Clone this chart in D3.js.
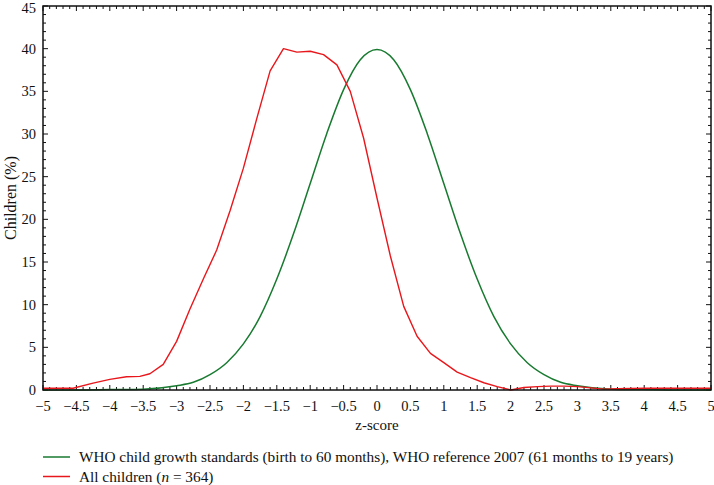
<!DOCTYPE html>
<html>
<head>
<meta charset="utf-8">
<script src="https://cdn.jsdelivr.net/npm/d3@7"></script>
<style>
  body { margin: 0; background: #fff; }
  text { font-family: "Liberation Serif", "DejaVu Serif", serif; fill: #111; }
</style>
</head>
<body>
<script>
// z-score values for the WHO reference curve
const whoZ = [-5, -4.5, -4, -3.5, -3, -2.75, -2.5, -2.25, -2, -1.75, -1.5, -1.25, -1, -0.75, -0.5, -0.25,
  0, 0.25, 0.5, 0.75, 1, 1.25, 1.5, 1.75, 2, 2.25, 2.5, 2.75, 3, 3.5, 4, 4.5, 5];
const whoPct = [0, 0, 0.05, 0.1, 0.5, 0.9, 1.8, 3.2, 5.4, 8.6, 13.0, 18.3, 24.2, 30.1, 35.2, 38.7,
  39.9, 38.7, 35.2, 30.1, 24.2, 18.3, 13.0, 8.6, 5.4, 3.2, 1.8, 0.9, 0.5, 0.1, 0.05, 0, 0];

// all children (n = 364)
const kidsZ = [-5, -4.55, -4.25, -4, -3.75, -3.55, -3.4, -3.2, -3, -2.8, -2.6, -2.4, -2.2, -2, -1.8, -1.6,
  -1.4, -1.2, -1, -0.8, -0.6, -0.4, -0.2, 0, 0.2, 0.4, 0.6, 0.8, 1, 1.2, 1.4, 1.6, 1.8, 2,
  2.2, 2.4, 2.6, 2.8, 3, 3.2, 3.4, 3.6, 4, 5];
const kidsPct = [0.2, 0.2, 0.8, 1.25, 1.55, 1.6, 1.9, 3.0, 5.7, 9.5, 13.0, 16.4, 21.0, 26.0, 31.8, 37.4,
  40.0, 39.6, 39.7, 39.3, 38.1, 35.0, 29.5, 22.5, 15.7, 9.8, 6.3, 4.3, 3.2, 2.1, 1.45, 0.85, 0.4, 0.0,
  0.3, 0.4, 0.45, 0.45, 0.4, 0.25, 0.1, 0.15, 0.2, 0.2];

const xTicks = d3.range(-5, 5.01, 0.5);
const yTicks = d3.range(0, 46, 5);

const legendItems = [
  { label: "WHO child growth standards (birth to 60 months), WHO reference 2007 (61 months to 19 years)", color: "#187a30" },
  { label: "All children (", italic: "n", rest: " = 364)", color: "#e8171c" },
];

const w = 714, h = 485;
const mLeft = 43, mRight = 711, mTop = 6, mBottom = 390;

const svg = d3.select("body").append("svg").attr("width", w).attr("height", h);

const x = d3.scaleLinear().domain([-5, 5]).range([mLeft, mRight]);
const y = d3.scaleLinear().domain([0, 45]).range([mBottom, mTop]);

const fmt = (d) => {
  const s = (Math.round(d * 10) / 10).toString();
  return s.replace("-", "\u2212");
};

// minor ticks
const xMinor = d3.range(-50, 51).map((d) => d / 10);
const yMinor = d3.range(0, 46);

const tickG = svg.append("g").attr("stroke", "#111").attr("stroke-width", 1);
xMinor.forEach((d) => {
  const major = Math.abs(d * 2 - Math.round(d * 2)) < 1e-6;
  const len = major ? 5 : 3;
  tickG.append("line").attr("x1", x(d)).attr("x2", x(d)).attr("y1", mBottom).attr("y2", mBottom - len);
  tickG.append("line").attr("x1", x(d)).attr("x2", x(d)).attr("y1", mTop).attr("y2", mTop + len);
});
yMinor.forEach((d) => {
  const len = d % 5 === 0 ? 5 : 3;
  tickG.append("line").attr("y1", y(d)).attr("y2", y(d)).attr("x1", mLeft).attr("x2", mLeft + len);
  tickG.append("line").attr("y1", y(d)).attr("y2", y(d)).attr("x1", mRight).attr("x2", mRight - len);
});

// lines
const whoData = whoZ.map((z, i) => [z, whoPct[i]]);
const kidsData = kidsZ.map((z, i) => [z, kidsPct[i]]);

svg.append("path")
  .datum(whoData)
  .attr("fill", "none")
  .attr("stroke", legendItems[0].color)
  .attr("stroke-width", 1.5)
  .attr("d", d3.line().x((d) => x(d[0])).y((d) => y(d[1])).curve(d3.curveMonotoneX));

svg.append("path")
  .datum(kidsData)
  .attr("fill", "none")
  .attr("stroke", legendItems[1].color)
  .attr("stroke-width", 1.4)
  .attr("stroke-linejoin", "round")
  .attr("d", d3.line().x((d) => x(d[0])).y((d) => y(d[1])));

// frame
svg.append("rect")
  .attr("x", mLeft).attr("y", mTop)
  .attr("width", mRight - mLeft).attr("height", mBottom - mTop)
  .attr("fill", "none").attr("stroke", "#111").attr("stroke-width", 1.5);

// tick labels
svg.append("g").selectAll("text").data(xTicks).enter().append("text")
  .attr("x", (d) => x(d))
  .attr("y", mBottom + 21)
  .attr("text-anchor", "middle")
  .attr("font-size", 14.5)
  .text(fmt);

// top label sits against the page edge, nudge it down a touch
svg.append("g").selectAll("text").data(yTicks).enter().append("text")
  .attr("x", mLeft - 7)
  .attr("y", (d) => Math.max(y(d) + 5, 13))
  .attr("text-anchor", "end")
  .attr("font-size", 14.5)
  .text(fmt);

// axis titles
svg.append("text")
  .attr("x", (mLeft + mRight) / 2)
  .attr("y", 430)
  .attr("text-anchor", "middle")
  .attr("font-size", 15)
  .text("z-score");

svg.append("text")
  .attr("transform", `translate(16, 198) rotate(-90)`)
  .attr("text-anchor", "middle")
  .attr("font-size", 16)
  .text("Children (%)");

// legend
legendItems.forEach((item, i) => {
  const ly = 457 + i * 19.5;
  svg.append("line")
    .attr("x1", 43).attr("x2", 70).attr("y1", ly).attr("y2", ly)
    .attr("stroke", item.color).attr("stroke-width", 1.5);
  const t = svg.append("text").attr("x", 79).attr("y", ly + 5).attr("font-size", 15.3);
  t.append("tspan").text(item.label);
  if (item.italic) {
    t.append("tspan").attr("font-style", "italic").text(item.italic);
    t.append("tspan").text(item.rest);
  }
});
</script>
</body>
</html>
